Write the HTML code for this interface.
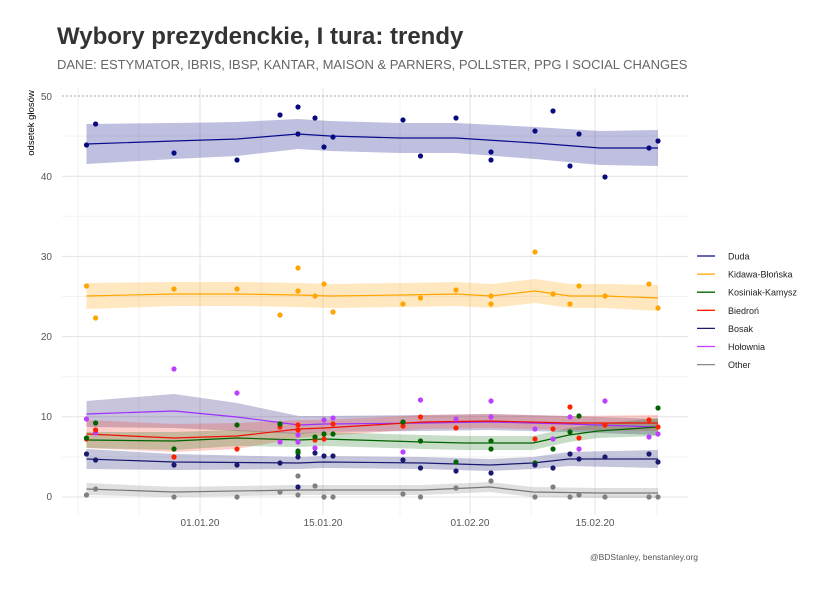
<!DOCTYPE html>
<html><head><meta charset="utf-8"><style>
body{margin:0;background:#fff;}
svg text{font-family:"Liberation Sans",sans-serif;}
</style></head><body>
<svg id="s" width="830" height="593" xmlns="http://www.w3.org/2000/svg">
<rect width="830" height="593" fill="#fff"/>
<text x="57" y="44" font-size="24" font-weight="bold" fill="#333">Wybory prezydenckie, I tura: trendy</text>
<text x="57" y="69" font-size="13" fill="#666">DANE: ESTYMATOR, IBRIS, IBSP, KANTAR, MAISON &amp; PARNERS, POLLSTER, PPG I SOCIAL CHANGES</text>
<g id="grid"></g>
<g id="bands"></g>
<g id="lines"></g>
<g id="pts"></g>
<g font-size="10" fill="#555" text-anchor="end">
<text x="52" y="100">50</text><text x="52" y="180">40</text><text x="52" y="260">30</text><text x="52" y="340">20</text><text x="52" y="420">10</text><text x="52" y="500">0</text>
</g>
<g font-size="10" fill="#555" text-anchor="middle">
<text x="200" y="526">01.01.20</text><text x="323" y="526">15.01.20</text><text x="470" y="526">01.02.20</text><text x="595" y="526">15.02.20</text>
</g>
<text transform="translate(34,123) rotate(-90)" font-size="9.5" fill="#000" text-anchor="middle">odsetek głosów</text>
<g id="leg" font-size="9" fill="#222"></g>
<text x="698" y="560" font-size="8.5" fill="#555" text-anchor="end">@BDStanley, benstanley.org</text>
</svg>
<script>
var NS="http://www.w3.org/2000/svg";
function el(p,t,a){var e=document.createElementNS(NS,t);for(var k in a)e.setAttribute(k,a[k]);document.getElementById(p).appendChild(e);}
function Y(v){return 497-8.02*v;}
[5,15,25,35,45].forEach(function(v){el('grid','line',{x1:62,x2:688,y1:Y(v),y2:Y(v),stroke:'#f2f2f2','stroke-width':1});});
[78,139,261,400,531,657].forEach(function(x){el('grid','line',{x1:x,x2:x,y1:88,y2:515,stroke:'#f2f2f2','stroke-width':1});});
[0,10,20,30,40].forEach(function(v){el('grid','line',{x1:62,x2:688,y1:Y(v),y2:Y(v),stroke:'#e3e3e3','stroke-width':1});});
[200,323,470,595].forEach(function(x){el('grid','line',{x1:x,x2:x,y1:88,y2:515,stroke:'#e3e3e3','stroke-width':1});});
el('grid','line',{x1:62,x2:688,y1:Y(50),y2:Y(50),stroke:'#aaa','stroke-width':1,'stroke-dasharray':'2,2'});
var X=[86.5,95.6,174,237,280,298,298,315,324,333,403,420.5,456,491,491,535,553,570,579,605,649,658];
var S=[
{c:'#0a0a8f',b:'rgba(20,20,140,0.27)',p:'#0a0a80',
 L:[[86.5,144],[174,141],[237,139],[298,134],[330,136],[400,138],[456,138],[535,143],[600,148],[658,148]],H:[20,18,17,15,15,15,15,16,17,18],
 Y:[145,124,153,160,115,107,134,118,147,137,120,156,118,152,160,131,111,166,134,177,148,141]},
{c:'#FFA500',b:'rgba(255,165,0,0.25)',p:'#FFA500',
 L:[[86.5,296],[174,294],[237,294],[298,295],[330,296],[403,295],[456,294],[491,296],[535,291],[570,296],[605,296],[658,298]],H:[13,12,12,12,12,12,12,12,12,12,12,13],
 Y:[286,318,289,289,315,268,291,296,284,312,304,298,290,296,304,252,294,304,286,296,284,308]},
{c:'#9B30FF',b:'rgba(70,60,140,0.30)',p:'#BF3EFF',
 L:[[86.5,414],[174,411],[237,417],[299,425],[324,424],[423,423],[490,422],[569,424],[658,427]],H:[13,17,14,9,8,8,8,8,8],
 P:[[86.5,419],[95.6,433],[174,369],[237,393],[280,442],[298,435],[298,442],[315,448],[324,420],[333,418],[403,452],[420.5,400],[456,419],[491,401],[491,417],[535,429],[553,439],[570,417],[579,449],[605,401],[649,437],[658,434]]},
{c:'#ee1100',b:'rgba(255,40,20,0.22)',p:'#ff2200',
 L:[[86.5,434],[174,438],[237,436],[299,429],[324,428],[423,422],[490,421],[569,423],[658,423]],H:[14,14,13,9,8,7,7,7,8],
 P:[[86.5,439],[95.6,430],[174,457],[237,449],[280,427],[298,425],[298,430],[315,440],[324,439],[333,424],[403,426],[420.5,417],[456,428],[535,439],[553,429],[570,407],[579,438],[605,425],[649,420],[658,427]]},
{c:'#006400',b:'rgba(0,100,0,0.22)',p:'#006400',
 L:[[86.5,440],[174,441],[237,438],[299,440],[324,439],[423,442],[465,443],[533,443],[569,435],[598,431],[658,427]],H:[8,9,8,7,7,7,7,7,7,7,9],
 P:[[86.5,438],[95.6,423],[174,449],[237,425],[280,424],[298,451],[298,453],[315,437],[324,434],[333,434],[403,422],[420.5,441],[456,462],[491,441],[491,449],[535,463],[553,449],[570,432],[579,416],[658,408]]},
{c:'#191970',b:'rgba(25,25,112,0.25)',p:'#191970',
 L:[[86.5,459],[174,462],[299,463],[324,462],[423,463],[490,465],[533,463],[569,459],[658,459]],H:[10,8,6,6,6,6,6,7,9],
 P:[[86.5,454],[95.6,460],[174,465],[237,465],[280,463],[298,457],[298,487],[315,453],[324,456],[333,456],[403,460],[420.5,468],[456,471],[491,473],[535,465],[553,468],[570,454],[579,459],[605,457],[649,454],[658,462]]},
{c:'#777',b:'rgba(128,128,128,0.25)',p:'#808080',
 L:[[86.5,489],[174,492],[299,490],[423,490],[490,487],[533,492],[598,493],[658,493]],H:[6,5,5,5,5,5,5,5],
 P:[[86.5,495],[95.6,489],[174,497],[237,497],[280,492],[298,495],[298,476],[315,486],[324,497],[333,497],[403,494],[420.5,497],[456,488],[491,481],[535,497],[553,487],[570,497],[579,495],[605,497],[649,497],[658,497]]}
];
S.forEach(function(s){
 var up=s.L.map(function(p,i){return p[0]+','+(p[1]-s.H[i]);});
 var dn=s.L.map(function(p,i){return p[0]+','+(p[1]+s.H[i]);}).reverse();
 el('bands','polygon',{points:up.concat(dn).join(' '),fill:s.b});
 el('lines','polyline',{points:s.L.map(function(p){return p.join(',');}).join(' '),fill:'none',stroke:s.c,'stroke-width':1.2});
 var P=s.P||X.map(function(x,i){return [x,s.Y[i]];});
 P.forEach(function(p){el('pts','circle',{cx:p[0],cy:p[1],r:2.6,fill:s.p});});
});
var names=['Duda','Kidawa-Błońska','Kosiniak-Kamysz','Biedroń','Bosak','Hołownia','Other'];
var lc=['#0a0a8f','#FFA500','#006400','#ff2200','#191970','#BF3EFF','#888'];
names.forEach(function(n,i){var y=256+18.1*i;
 el('leg','line',{x1:697,x2:715,y1:y,y2:y,stroke:lc[i],'stroke-width':1.3});
 var t=document.createElementNS(NS,'text');t.setAttribute('x',728);t.setAttribute('y',y+3.5);t.textContent=n;document.getElementById('leg').appendChild(t);});
</script>
</body></html>
